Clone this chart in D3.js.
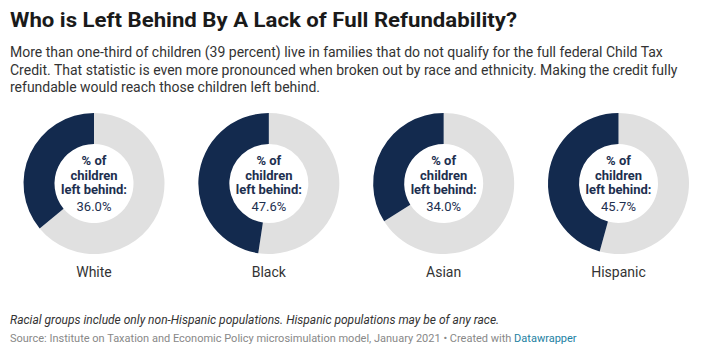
<!DOCTYPE html>
<html><head><meta charset="utf-8">
<script src="https://cdn.jsdelivr.net/npm/d3@7"></script>
<style>
body{margin:0;background:#fff;font-family:Roboto,"Noto Sans",sans-serif;}
</style></head>
<body><svg id="c" width="710" height="352"></svg>
<script>
const categories = ["White", "Black", "Asian", "Hispanic"];
const leftBehind = [36.0, 47.6, 34.0, 45.7];
const titleText = "Who is Left Behind By A Lack of Full Refundability?";
const subtitleLines = [
  "More than one-third of children (39 percent) live in families that do not qualify for the full federal Child Tax",
  "Credit. That statistic is even more pronounced when broken out by race and ethnicity. Making the credit fully",
  "refundable would reach those children left behind."
];
const noteText = "Racial groups include only non-Hispanic populations. Hispanic populations may be of any race.";
const sourceText = "Source: Institute on Taxation and Economic Policy microsimulation model, January 2021 • Created with ";
const creditText = "Datawrapper";

const svg = d3.select("#c");
const title = svg.append("text").attr("x",10).attr("y",26.5).attr("font-size",21).attr("font-weight",700)
  .attr("fill","#1a1a1a").text(titleText);
const tw = title.node().getComputedTextLength();
if (Math.abs(tw - 507) > 4) title.attr("textLength",507).attr("lengthAdjust","spacingAndGlyphs");
subtitleLines.forEach((l,i)=>{
  svg.append("text").attr("x",10).attr("y",57+i*17.5).attr("font-size",14).attr("fill","#333").text(l);
});

const x = d3.scalePoint().domain(categories).range([94, 618.5]);
const cy = 183.5, rOut = 70.5, rIn = 39.5;
const arc = d3.arc().innerRadius(rIn).outerRadius(rOut);
const dark = "#132a4e", light = "#e0e0e0";

categories.forEach((c,i)=>{
  const v = leftBehind[i];
  const g = svg.append("g").attr("transform",`translate(${x(c)},${cy})`);
  const a = -v/100*2*Math.PI;
  g.append("path").attr("d",arc({startAngle:0,endAngle:2*Math.PI+a})).attr("fill",light);
  g.append("path").attr("d",arc({startAngle:a,endAngle:0})).attr("fill",dark);
  const lines = ["% of","children","left behind:"];
  lines.forEach((t,j)=>{
    g.append("text").attr("x",0).attr("y",-18.5+j*14.6).attr("text-anchor","middle")
      .attr("font-size",13).attr("font-weight",700).attr("fill","#1d2f4f").text(t);
  });
  g.append("text").attr("x",0).attr("y",27.5).attr("text-anchor","middle")
    .attr("font-size",13).attr("fill","#1d2f4f").text(v.toFixed(1)+"%");
  svg.append("text").attr("x",x(c)).attr("y",277).attr("text-anchor","middle")
    .attr("font-size",14).attr("fill","#333").text(c);
});

svg.append("text").attr("x",10).attr("y",324).attr("font-size",12).attr("font-style","italic")
  .attr("fill","#333").text(noteText);
const src = svg.append("text").attr("x",10).attr("y",342).attr("font-size",11).attr("fill","#888");
src.append("tspan").text(sourceText);
src.append("tspan").attr("fill","#1d81a2").text(creditText);
</script></body></html>
